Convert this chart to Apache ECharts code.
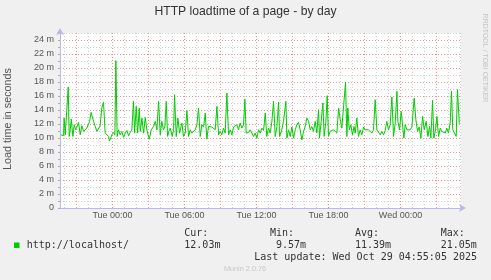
<!DOCTYPE html>
<html><head><meta charset="utf-8">
<script src="https://cdn.jsdelivr.net/npm/echarts@6/dist/echarts.min.js"></script>
<style>html,body{margin:0;padding:0;background:#f0f0f0}#c{width:491px;height:280px}</style>
</head><body><div id="c"></div>
<script>
const titleText = 'HTTP loadtime of a page - by day';
const yAxisTitle = 'Load time in seconds';
// hours relative to Tue 00:00
const hours = [
-4.30,-4.19,-4.08,-4.03,-3.94,-3.80,-3.69,-3.61,-3.53,-3.44,-3.30,-3.19,-3.08,-2.97,-2.83,-2.69,-2.55,-2.41,-2.28,-2.14,
-2.00,-1.91,-1.78,-1.66,-1.58,-1.44,-1.30,-1.16,-1.03,-0.89,-0.75,-0.61,-0.47,-0.33,-0.25,-0.05,0.09,0.20,0.28,0.39,
0.50,0.64,0.78,0.92,1.06,1.20,1.34,1.48,1.61,1.75,1.84,1.98,2.09,2.23,2.31,2.45,2.59,2.73,2.86,3.06,
3.23,3.42,3.56,3.70,3.84,3.98,4.11,4.25,4.36,4.48,4.59,4.70,4.81,4.98,5.09,5.17,5.31,5.45,5.59,5.78,
5.92,6.06,6.20,6.34,6.48,6.61,6.75,6.89,7.03,7.17,7.31,7.45,7.59,7.73,7.86,8.00,8.14,8.28,8.42,8.56,
8.70,8.84,8.98,9.11,9.25,9.39,9.53,9.67,9.81,9.95,10.09,10.23,10.36,10.50,10.64,10.78,10.92,11.03,11.14,11.20,
11.34,11.48,11.61,11.75,11.89,12.03,12.17,12.31,12.45,12.59,12.73,12.86,13.00,13.14,13.28,13.42,13.56,13.70,13.84,13.92,
14.11,14.25,14.45,14.53,14.67,14.81,14.95,15.09,15.23,15.36,15.50,15.64,15.78,15.92,16.06,16.20,16.34,16.48,16.61,16.75,
16.89,17.03,17.17,17.25,17.39,17.53,17.64,17.78,17.89,18.00,18.14,18.28,18.42,18.56,18.70,18.84,18.98,19.11,19.25,19.42,
19.53,19.61,19.73,19.86,20.00,20.14,20.23,20.36,20.50,20.64,20.78,20.92,21.06,21.20,21.34,21.48,21.61,21.75,21.89,22.03,
22.17,22.31,22.45,22.59,22.73,22.86,23.00,23.14,23.28,23.42,23.56,23.70,23.78,23.92,24.06,24.17,24.28,24.39,24.53,24.67,
24.81,24.95,25.14,25.28,25.42,25.56,25.70,25.84,25.98,26.14,26.28,26.42,26.53,26.67,26.78,26.92,27.03,27.17,27.31,27.45,
27.59,27.73,27.86,28.00,28.14,28.25,28.36,28.50,28.64,28.75,28.90
];
// load time in milliseconds
const loadMs = [
10.46,10.22,10.32,12.85,10.46,10.60,17.29,10.22,11.00,12.70,10.22,11.89,11.20,11.56,12.23,10.46,11.75,10.94,11.17,11.41,
11.41,12.37,13.66,12.85,12.61,11.65,10.94,10.70,11.75,14.28,15.09,10.70,10.46,10.22,9.57,10.46,10.79,10.46,21.05,10.22,
11.17,10.46,10.94,10.10,10.70,11.08,10.32,10.79,11.17,15.23,10.70,14.52,10.70,14.28,10.94,12.85,10.70,12.94,11.17,9.84,
11.17,11.65,12.37,11.17,15.23,10.46,12.37,11.17,11.56,15.23,10.22,10.94,11.41,10.22,11.17,16.19,10.22,12.85,10.70,12.13,
10.22,10.70,13.94,10.22,11.17,10.70,10.46,11.17,11.89,14.28,10.22,11.89,11.56,13.56,9.84,11.65,11.41,11.56,11.41,11.17,
14.52,10.46,10.94,10.46,11.41,10.70,16.43,10.46,11.17,10.46,11.56,11.41,11.89,11.17,12.13,11.41,11.89,15.57,10.70,10.46,
10.79,11.17,11.17,10.22,10.70,9.98,11.17,10.70,11.41,11.08,13.56,10.22,11.41,10.70,12.37,15.23,10.22,11.65,15.14,10.22,
11.17,12.37,15.23,9.98,11.17,10.22,11.56,9.98,11.17,11.89,12.23,11.17,9.74,10.94,11.65,12.85,12.37,11.17,11.65,10.94,
12.37,10.70,14.04,9.98,12.37,15.00,10.22,12.37,16.05,10.22,10.94,10.70,11.17,10.94,10.70,14.28,12.61,11.41,11.65,17.96,
10.22,14.28,11.17,11.89,10.46,11.65,10.70,12.85,10.22,11.17,10.46,11.56,11.17,11.41,11.17,11.41,10.70,11.17,15.47,11.17,
11.17,10.46,10.94,10.46,11.08,12.37,11.17,11.89,15.86,10.22,12.13,16.67,12.37,11.17,13.80,11.89,9.98,11.89,11.17,11.41,
11.17,11.56,15.71,12.61,10.94,11.56,9.98,13.09,11.17,12.37,10.22,11.65,9.98,15.38,9.98,11.17,13.09,10.22,11.41,10.94,
11.17,10.70,11.41,10.70,12.13,16.67,11.17,11.17,10.22,16.91,12.03
];
const xLabelHours = [0, 6, 12, 18, 24];
const xLabels = ['Tue 00:00', 'Tue 06:00', 'Tue 12:00', 'Tue 18:00', 'Wed 00:00'];
const yLabelValues = [0, 2, 4, 6, 8, 10, 12, 14, 16, 18, 20, 22, 24];
const yLabels = ['0', '2 m', '4 m', '6 m', '8 m', '10 m', '12 m', '14 m', '16 m', '18 m', '20 m', '22 m', '24 m'];
const seriesName = 'http://localhost/';
const statNames = ['Cur:', 'Min:', 'Avg:', 'Max:'];
const statValues = ['12.03m', '9.57m', '11.39m', '21.05m'];
const lastUpdate = 'Last update: Wed Oct 29 04:55:05 2025';
const footer = 'Munin 2.0.76';
const watermark = 'RRDTOOL / TOBI OETIKER';

const xMin = -4.375, xMax = 29.0417;
const yMin = 0, yMax = 25;

const GREEN = '#00cc00';
const RED = '#f09090';
const GREY = '#cfcfcf';
const AXIS = '#b8b8ea';
const SANS = '"Liberation Sans", Arial, sans-serif';
const MONO = '"DejaVu Sans Mono", monospace';

const minorHours = [], majorHours = [];
for (let h = Math.ceil(xMin); h <= Math.floor(xMax); h++) {
  if (((h % 3) + 3) % 3 === 0) majorHours.push({ xAxis: h }); else minorHours.push({ xAxis: h });
}

const chart = echarts.init(document.getElementById('c'), null, { renderer: 'canvas' });
const statColX = [184.3, 270, 355, 440.7];
const statValX = [184.3, 276, 355, 440.7];

const graphics = [
  { type: 'text', x: 245.5, y: 11.5, style: { text: titleText, font: '12.2px ' + SANS, fill: '#333', align: 'center', verticalAlign: 'middle' } },
  { type: 'text', x: 8.5, y: 119, rotation: Math.PI / 2, style: { text: yAxisTitle, font: '10.8px ' + SANS, fill: '#555', align: 'center', verticalAlign: 'middle' } },
  { type: 'text', x: 485, y: 58, rotation: -Math.PI / 2, style: { text: watermark, font: '7px ' + SANS, fill: '#c4c4c4', align: 'center', verticalAlign: 'middle' } },
  { type: 'rect', shape: { x: 14, y: 242.5, width: 5.5, height: 5.5 }, style: { fill: GREEN } },
  { type: 'text', x: 26.7, y: 245.5, style: { text: seriesName, font: '10px ' + MONO, fill: '#333', align: 'left', verticalAlign: 'middle' } },
  { type: 'text', x: 477, y: 257, style: { text: lastUpdate, font: '10px ' + MONO, fill: '#333', align: 'right', verticalAlign: 'middle' } },
  { type: 'text', x: 245, y: 268.5, style: { text: footer, font: '7.3px ' + SANS, fill: '#c8c8c8', align: 'center', verticalAlign: 'middle' } }
];
statNames.forEach((n, i) => {
  graphics.push({ type: 'text', x: statColX[i], y: 233, style: { text: n, font: '10px ' + MONO, fill: '#333', align: 'left', verticalAlign: 'middle' } });
  graphics.push({ type: 'text', x: statValX[i], y: 245.5, style: { text: statValues[i], font: '10px ' + MONO, fill: '#333', align: 'left', verticalAlign: 'middle' } });
});

chart.setOption({
  backgroundColor: '#f0f0f0',
  animation: false,
  grid: { left: 60, top: 33, width: 401, height: 175, show: true, backgroundColor: '#ffffff', borderWidth: 0, containLabel: false },
  xAxis: {
    type: 'value', min: xMin, max: xMax,
    axisLine: { show: true, lineStyle: { color: AXIS, width: 1 }, symbol: ['none', 'arrow'], symbolSize: [6, 7], symbolOffset: [0, 5] },
    axisTick: { show: false },
    splitLine: { show: false },
    axisLabel: {
      customValues: xLabelHours,
      formatter: v => { const i = xLabelHours.indexOf(Math.round(v)); return i >= 0 ? xLabels[i] : ''; },
      color: '#555', fontFamily: SANS, fontSize: 9, margin: 3, hideOverlap: false
    }
  },
  yAxis: {
    type: 'value', min: yMin, max: yMax, interval: 1,
    axisLine: { show: true, onZero: false, lineStyle: { color: AXIS, width: 1 }, symbol: ['none', 'arrow'], symbolSize: [6, 7], symbolOffset: [0, 5] },
    axisTick: { show: true, length: 2, lineStyle: { color: '#aaa' } },
    splitLine: { show: true, lineStyle: { color: [RED, GREY], type: [1, 2], width: 1 } },
    axisLabel: {
      formatter: v => { const i = yLabelValues.indexOf(Math.round(v * 1000) / 1000); return i >= 0 ? yLabels[i] : ''; },
      color: '#555', fontFamily: SANS, fontSize: 9, margin: 6
    }
  },
  series: [
    {
      type: 'line', data: [], z: 1, silent: true,
      markLine: { silent: true, symbol: 'none', label: { show: false }, animation: false,
        lineStyle: { color: GREY, type: [1, 2], width: 1 }, emphasis: { disabled: true }, data: minorHours }
    },
    {
      type: 'line', data: [], z: 2, silent: true,
      markLine: { silent: true, symbol: 'none', label: { show: false }, animation: false,
        lineStyle: { color: RED, type: [1, 2], width: 1 }, emphasis: { disabled: true }, data: majorHours }
    },
    {
      name: seriesName, type: 'line', z: 5,
      data: hours.map((h, i) => [h, loadMs[i]]),
      showSymbol: false, symbol: 'none',
      lineStyle: { color: GREEN, width: 1 },
      itemStyle: { color: GREEN }
    }
  ],
  graphic: graphics
});
</script>
</body></html>
